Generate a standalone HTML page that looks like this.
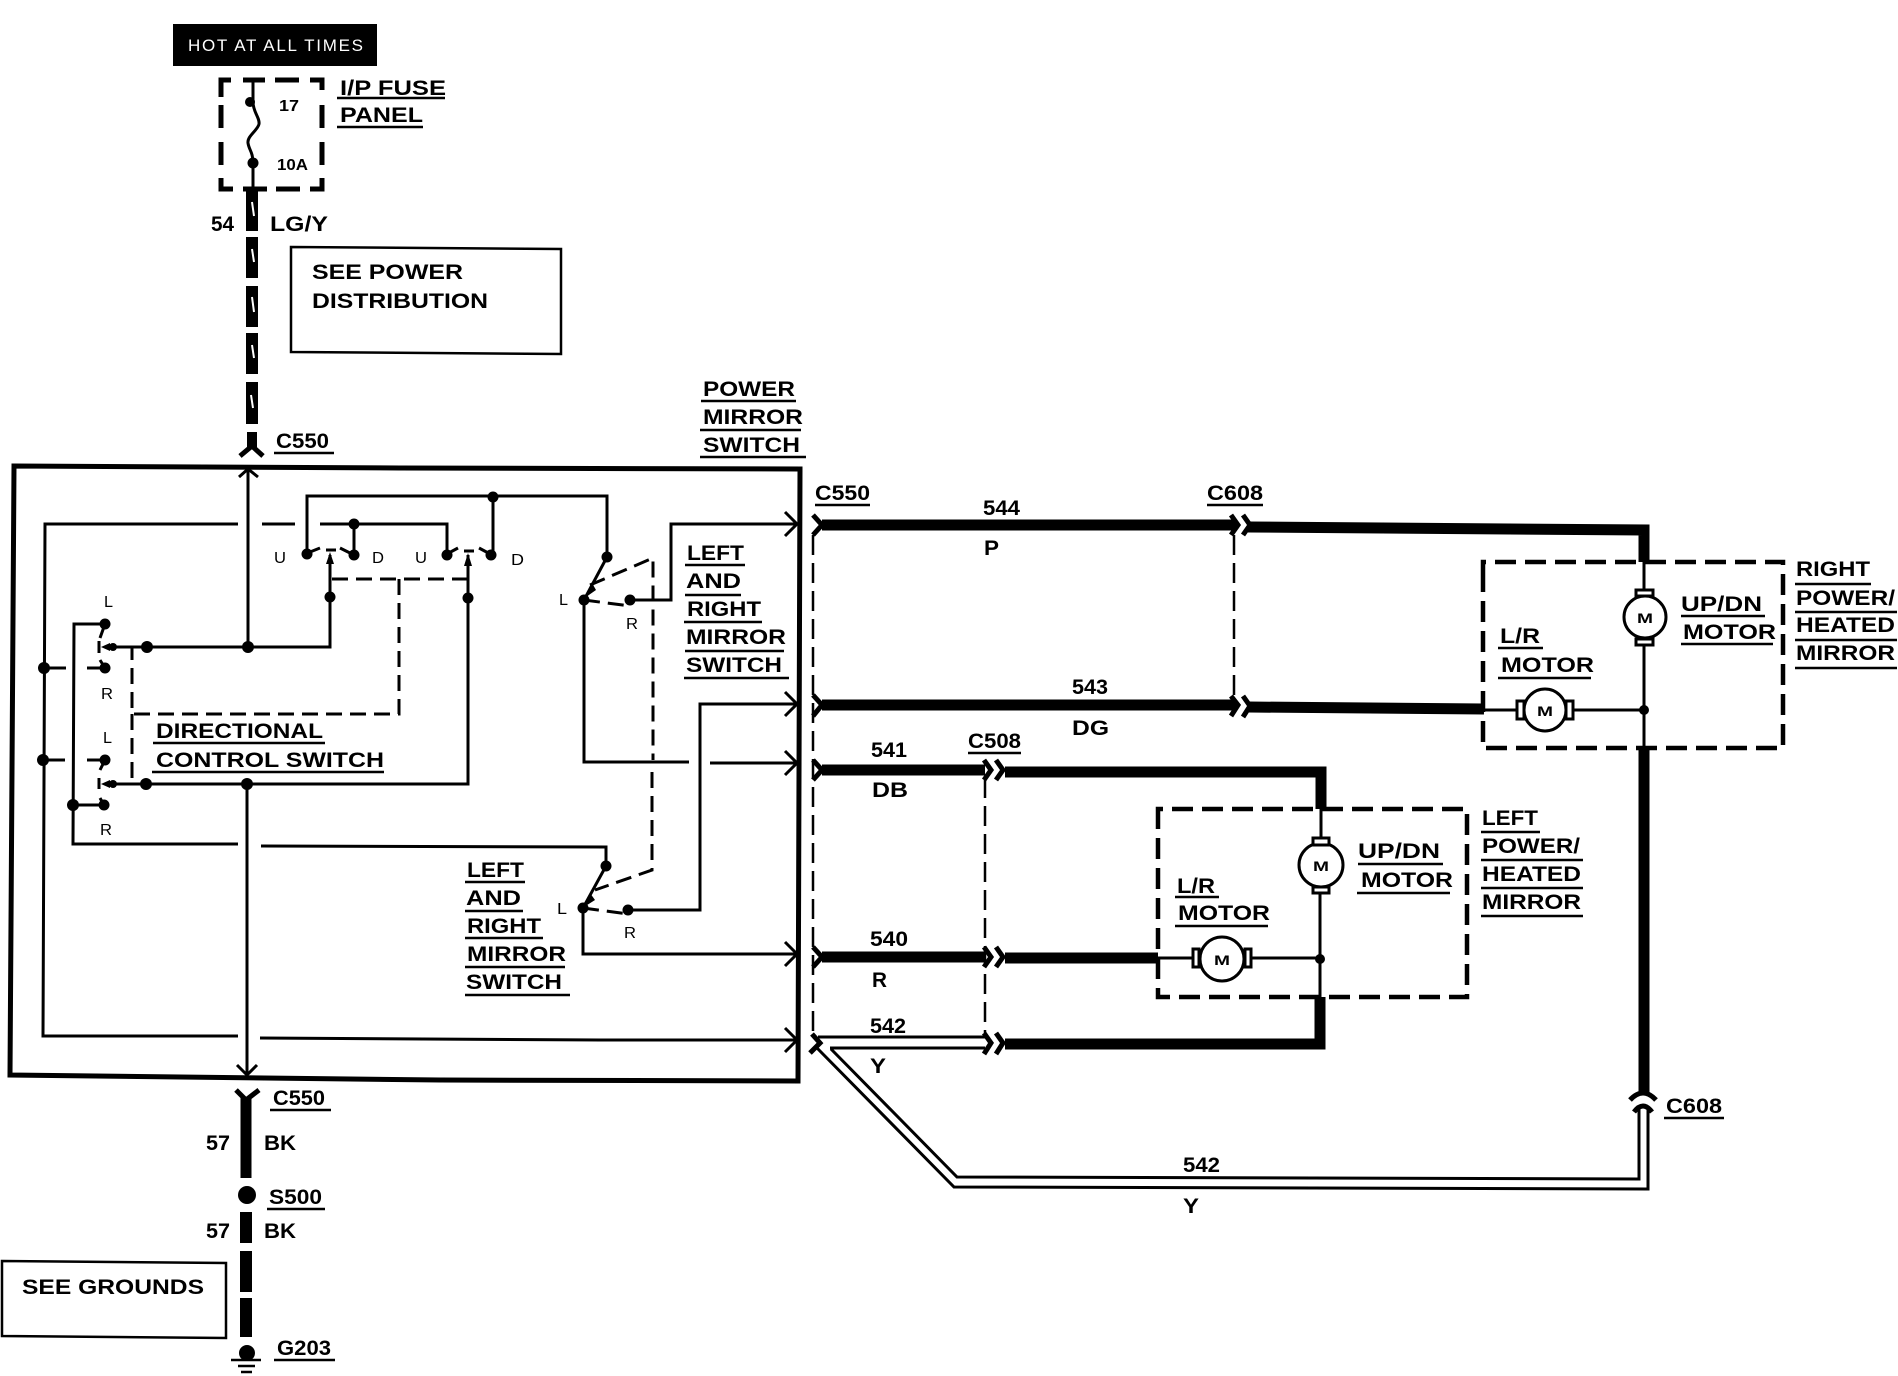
<!DOCTYPE html>
<html><head><meta charset="utf-8"><style>
html,body{margin:0;padding:0;background:#fff}
svg{display:block}
text{font-family:"Liberation Sans",sans-serif;font-weight:bold;fill:#000}
.l{font-size:21px}.s{font-size:14px}
.t text{font-size:16px;font-weight:normal}
</style></head><body>
<svg width="1898" height="1376" viewBox="0 0 1898 1376" xmlns="http://www.w3.org/2000/svg">
<rect width="1898" height="1376" fill="#fff"/>
<rect x="173" y="24" width="204" height="42" fill="#000"/>
<text x="188" y="51" font-size="17" textLength="175" style="fill:#fff;font-weight:normal">HOT AT ALL TIMES</text>

<!-- fuse -->
<path d="M221 97V80H231M243 80H265M275 80H299M310 80H322V90M221 105V128M221 142V165M322 105V128M322 142V165M221 178V189H233M243 189H267M276 189H300M310 189H322V178" fill="none" stroke="#000" stroke-width="5"/>
<path d="M253 80V102C253 112 260 118 259 124C258 130 247 136 248 143C249 150 253 152 253 163V190" fill="none" stroke="#000" stroke-width="3"/>
<circle cx="250" cy="102" r="5"/><circle cx="253" cy="163" r="5.5"/>
<text x="279" y="111" font-size="16" textLength="20" lengthAdjust="spacingAndGlyphs">17</text>
<text x="277" y="170" font-size="16" textLength="31" lengthAdjust="spacingAndGlyphs">10A</text>

<!-- thick power wire -->
<path d="M252 190V231M252 237V278M252 286V327M252 333V374M252 382V424" stroke="#000" stroke-width="12" fill="none"/>
<path d="M252 202L254 216M252 249L254 262M252 297L254 312M252 345L254 358M251 395L253 408" stroke="#fff" stroke-width="2" fill="none"/>
<path d="M252 432V448" stroke="#000" stroke-width="10"/><path d="M240 456L252 446L263 456" fill="none" stroke="#000" stroke-width="5"/>

<!-- see boxes -->
<path d="M291 247L561 249V354L291 352Z" fill="none" stroke="#000" stroke-width="2.5"/>
<path d="M2 1261L226 1263V1338L2 1336Z" fill="none" stroke="#000" stroke-width="2.5"/>

<!-- main box -->
<path d="M14 466L400 468L800 469L798 1081L440 1080L10 1075Z" fill="none" stroke="#000" stroke-width="5"/>

<!-- inside wiring -->
<g fill="none" stroke="#000" stroke-width="3">
<path d="M248 470V647M239 477L248 469L258 477"/>
<path d="M105 647H330V555"/>
<path d="M238 524H45L43 1036H238M262 524H295M320 524H447V552"/>
<path d="M260 1038L600 1040H795M785 1028L797 1040L785 1052"/>
<path d="M354 524V555"/>
<path d="M307 553V496H607V557"/>
<path d="M493 497V555"/>
<path d="M468 555V784H105"/>
<path d="M247 784V1073M237 1065L247 1075L257 1065"/>
<path d="M44 668H66M87 668H105M43 760H65M87 760H105"/>
<path d="M105 624H74L73 844H238M261 846L606 847V866"/>
<path d="M73 805H104"/>
<path d="M606 866L583 908V954H797M785 942L797 954L785 966"/>
<path d="M628 910H700V704H797M785 692L797 704L785 716"/>
<path d="M607 557L584 600V762H689M710 763H797M785 751L797 763L785 775"/>
<path d="M630 600H671V524H797M785 512L797 524L785 536"/>
<path d="M305 554L320 548M354 555L340 548M445 555L458 548M492 555L479 548"/>
<path d="M326 550H336M464 551H474"/>
<path d="M105 624L100 638M105 668L100 660M105 760L100 770M104 805L100 798M99 641V653M99 778V789"/>
</g>
<path d="M330 552L326 564H334Z M468 553L464 566H472Z M592 583L586 597L596 590Z M590 893L584 907L595 900Z M101 647L110 643V651Z M101 784L110 780V788Z"/>
<g fill="none" stroke="#000" stroke-width="3" stroke-dasharray="16 8">
<path d="M332 579H468"/>
<path d="M399 579V714H132V648M132 714V783"/>
<path d="M590 585L653 558V760"/>
<path d="M652 772V870L595 890"/>
<path d="M584 600L630 606M583 908L628 914"/>
</g>
<g>
<circle cx="248" cy="647" r="6"/><circle cx="147" cy="647" r="6"/><circle cx="113" cy="647" r="4"/>
<circle cx="247" cy="784" r="6"/><circle cx="146" cy="784" r="6"/><circle cx="113" cy="784" r="4"/>
<circle cx="105" cy="624" r="5.5"/><circle cx="105" cy="668" r="5.5"/><circle cx="105" cy="760" r="5.5"/><circle cx="104" cy="805" r="5.5"/>
<circle cx="44" cy="668" r="6"/><circle cx="43" cy="760" r="6"/><circle cx="73" cy="805" r="6"/>
<circle cx="307" cy="554" r="5.5"/><circle cx="354" cy="555" r="5.5"/><circle cx="447" cy="555" r="5.5"/><circle cx="491" cy="555" r="5.5"/>
<circle cx="354" cy="524" r="5.5"/><circle cx="493" cy="497" r="5.5"/>
<circle cx="330" cy="597" r="5.5"/><circle cx="468" cy="598" r="5.5"/>
<circle cx="607" cy="557" r="5.5"/><circle cx="584" cy="600" r="5.5"/><circle cx="630" cy="600" r="5.5"/>
<circle cx="606" cy="866" r="5.5"/><circle cx="583" cy="908" r="5.5"/><circle cx="628" cy="910" r="5.5"/>
</g>

<!-- right side thin dashed -->
<g fill="none" stroke="#000" stroke-width="2.5" stroke-dasharray="20 8">
<path d="M813 535V1038"/>
<path d="M1234 535V706"/>
<path d="M985 778V1037"/>
</g>

<!-- thick harness -->
<g fill="none" stroke="#000" stroke-width="11">
<path d="M822 525H1235M1248 527L1644 530V562"/>
<path d="M822 705H1235M1248 707L1484 709"/>
<path d="M822 770H985M1005 772H1321V809"/>
<path d="M822 957H985M1005 958H1158"/>
<path d="M1005 1044H1320V997"/>
<path d="M1644 748V1092"/>
</g>
<!-- chevrons -->
<g fill="none" stroke="#000" stroke-width="5">
<path d="M813 515L822 525L813 535M813 695L822 705L813 716M813 760L822 770L813 780M813 947L822 957L813 967"/>
<path d="M812 1034L820 1043L810 1053"/>
<path d="M1231 515L1238 525L1231 535M1243 515L1250 525L1243 535M1231 696L1238 705L1231 716M1243 696L1250 706L1243 717"/>
<path d="M984 760L991 770L984 780M996 760L1003 770L996 780M984 947L991 957L984 967M996 947L1003 957L996 967M984 1033L991 1043L984 1054M996 1033L1003 1043L996 1054"/>
<path d="M1630 1100Q1643 1086 1656 1100M1634 1112Q1643 1100 1652 1112"/>
</g>
<!-- 542 double -->
<g fill="none" stroke="#000" stroke-width="3">
<path d="M818 1037H985M830 1048H985"/>
<path d="M817 1048L954 1187L1648 1189V1108"/>
<path d="M831 1049L957 1177L1639 1179V1108"/>
</g>

<!-- motors -->
<g fill="none" stroke="#000" stroke-width="4.5" stroke-dasharray="21 9">
<path d="M1483 580V562H1783V748H1483V562"/>
<path d="M1158 825V809H1467V997H1158V809"/>
</g>
<g fill="none" stroke="#000" stroke-width="3">
<path d="M1644 562V596M1644 640V748M1484 710H1517M1573 710H1644"/>
<path d="M1321 809V838M1320 893V997M1158 958H1193M1251 958H1320"/>
<g fill="#fff">
<circle cx="1645" cy="617" r="21"/><circle cx="1545" cy="710" r="21"/><circle cx="1321" cy="865" r="22"/><circle cx="1222" cy="959" r="22"/>
<rect x="1636" y="590" width="17" height="6"/><rect x="1636" y="639" width="17" height="6"/>
<rect x="1517" y="701" width="7" height="18"/><rect x="1566" y="701" width="7" height="18"/>
<rect x="1313" y="838" width="16" height="7"/><rect x="1313" y="887" width="16" height="6"/>
<rect x="1193" y="949" width="6" height="18"/><rect x="1245" y="949" width="6" height="18"/>
</g>
</g>
<circle cx="1644" cy="710" r="5"/><circle cx="1320" cy="959" r="5"/>
<text class="s" x="1637" y="623" textLength="16" lengthAdjust="spacingAndGlyphs">M</text>
<text class="s" x="1537" y="716" textLength="16" lengthAdjust="spacingAndGlyphs">M</text>
<text class="s" x="1313" y="871" textLength="16" lengthAdjust="spacingAndGlyphs">M</text>
<text class="s" x="1214" y="965" textLength="16" lengthAdjust="spacingAndGlyphs">M</text>

<!-- bottom ground -->
<path d="M246 1097V1178" stroke="#000" stroke-width="11"/><path d="M236 1090L246 1100L259 1090" fill="none" stroke="#000" stroke-width="5"/>
<circle cx="247" cy="1195" r="9"/>
<path d="M246 1212V1243M246 1251V1292M246 1298V1337" stroke="#000" stroke-width="12" fill="none"/>
<circle cx="247" cy="1353" r="8"/>
<path d="M231 1360H261M238 1366H255M241 1372H252" stroke="#000" stroke-width="2.5" fill="none"/>

<!-- underlines -->
<path fill="none" stroke="#000" stroke-width="2.5" d="M337 98H445M337 127H423M274 453H334M701 401H796M700 430H801M700 457H806M685 565H745M685 595H741M684 622H762M685 651H784M684 678H789M465 882H525M465 911H523M465 938H543M465 967H565M465 995H570M153 743H325M152 772H384M815 505H870M1207 505H1263M968 753H1021M1498 648H1543M1498 678H1591M1681 616H1765M1681 644H1773M1795 584H1871M1795 612H1897M1795 640H1897M1795 668H1897M1175 897H1219M1175 926H1268M1358 864H1443M1357 893H1450M1481 832H1540M1481 860H1583M1481 888H1583M1481 916H1583M1664 1118H1724M270 1110H331M267 1209H325M274 1360H335"/>

<!-- labels -->
<g class="l">
<text x="340" y="95" textLength="106" lengthAdjust="spacingAndGlyphs">I/P FUSE</text>
<text x="340" y="122" textLength="83" lengthAdjust="spacingAndGlyphs">PANEL</text>
<text x="211" y="231" textLength="23" lengthAdjust="spacingAndGlyphs">54</text>
<text x="270" y="231" textLength="58" lengthAdjust="spacingAndGlyphs">LG/Y</text>
<text x="312" y="279" textLength="151" lengthAdjust="spacingAndGlyphs">SEE POWER</text>
<text x="312" y="308" textLength="176" lengthAdjust="spacingAndGlyphs">DISTRIBUTION</text>
<text x="276" y="448" textLength="53" lengthAdjust="spacingAndGlyphs">C550</text>
<text x="703" y="396" textLength="92" lengthAdjust="spacingAndGlyphs">POWER</text>
<text x="703" y="424" textLength="100" lengthAdjust="spacingAndGlyphs">MIRROR</text>
<text x="703" y="452" textLength="97" lengthAdjust="spacingAndGlyphs">SWITCH</text>
<text x="687" y="560" textLength="57" lengthAdjust="spacingAndGlyphs">LEFT</text>
<text x="686" y="588" textLength="55" lengthAdjust="spacingAndGlyphs">AND</text>
<text x="687" y="616" textLength="74" lengthAdjust="spacingAndGlyphs">RIGHT</text>
<text x="686" y="644" textLength="100" lengthAdjust="spacingAndGlyphs">MIRROR</text>
<text x="686" y="672" textLength="96" lengthAdjust="spacingAndGlyphs">SWITCH</text>
<text x="467" y="877" textLength="57" lengthAdjust="spacingAndGlyphs">LEFT</text>
<text x="466" y="905" textLength="55" lengthAdjust="spacingAndGlyphs">AND</text>
<text x="467" y="933" textLength="74" lengthAdjust="spacingAndGlyphs">RIGHT</text>
<text x="467" y="961" textLength="99" lengthAdjust="spacingAndGlyphs">MIRROR</text>
<text x="466" y="989" textLength="96" lengthAdjust="spacingAndGlyphs">SWITCH</text>
<text x="156" y="738" textLength="167" lengthAdjust="spacingAndGlyphs">DIRECTIONAL</text>
<text x="156" y="767" textLength="228" lengthAdjust="spacingAndGlyphs">CONTROL SWITCH</text>
<text x="815" y="500" textLength="55" lengthAdjust="spacingAndGlyphs">C550</text>
<text x="1207" y="500" textLength="56" lengthAdjust="spacingAndGlyphs">C608</text>
<text x="983" y="515" textLength="37" lengthAdjust="spacingAndGlyphs">544</text>
<text x="984" y="555" textLength="15" lengthAdjust="spacingAndGlyphs">P</text>
<text x="1072" y="694" textLength="36" lengthAdjust="spacingAndGlyphs">543</text>
<text x="1072" y="735" textLength="37" lengthAdjust="spacingAndGlyphs">DG</text>
<text x="871" y="757" textLength="36" lengthAdjust="spacingAndGlyphs">541</text>
<text x="872" y="797" textLength="36" lengthAdjust="spacingAndGlyphs">DB</text>
<text x="968" y="748" textLength="53" lengthAdjust="spacingAndGlyphs">C508</text>
<text x="870" y="946" textLength="38" lengthAdjust="spacingAndGlyphs">540</text>
<text x="872" y="987" textLength="15" lengthAdjust="spacingAndGlyphs">R</text>
<text x="870" y="1033" textLength="36" lengthAdjust="spacingAndGlyphs">542</text>
<text x="870" y="1073" textLength="16" lengthAdjust="spacingAndGlyphs">Y</text>
<text x="1183" y="1172" textLength="37" lengthAdjust="spacingAndGlyphs">542</text>
<text x="1183" y="1213" textLength="16" lengthAdjust="spacingAndGlyphs">Y</text>
<text x="1666" y="1113" textLength="56" lengthAdjust="spacingAndGlyphs">C608</text>
<text x="1500" y="643" textLength="40" lengthAdjust="spacingAndGlyphs">L/R</text>
<text x="1501" y="672" textLength="93" lengthAdjust="spacingAndGlyphs">MOTOR</text>
<text x="1681" y="611" textLength="81" lengthAdjust="spacingAndGlyphs">UP/DN</text>
<text x="1683" y="639" textLength="93" lengthAdjust="spacingAndGlyphs">MOTOR</text>
<text x="1796" y="576" textLength="74" lengthAdjust="spacingAndGlyphs">RIGHT</text>
<text x="1796" y="605" textLength="99" lengthAdjust="spacingAndGlyphs">POWER/</text>
<text x="1796" y="632" textLength="99" lengthAdjust="spacingAndGlyphs">HEATED</text>
<text x="1796" y="660" textLength="99" lengthAdjust="spacingAndGlyphs">MIRROR</text>
<text x="1177" y="893" textLength="38" lengthAdjust="spacingAndGlyphs">L/R</text>
<text x="1178" y="920" textLength="92" lengthAdjust="spacingAndGlyphs">MOTOR</text>
<text x="1358" y="858" textLength="82" lengthAdjust="spacingAndGlyphs">UP/DN</text>
<text x="1361" y="887" textLength="92" lengthAdjust="spacingAndGlyphs">MOTOR</text>
<text x="1482" y="825" textLength="56" lengthAdjust="spacingAndGlyphs">LEFT</text>
<text x="1482" y="853" textLength="98" lengthAdjust="spacingAndGlyphs">POWER/</text>
<text x="1482" y="881" textLength="99" lengthAdjust="spacingAndGlyphs">HEATED</text>
<text x="1482" y="909" textLength="99" lengthAdjust="spacingAndGlyphs">MIRROR</text>
<text x="273" y="1105" textLength="52" lengthAdjust="spacingAndGlyphs">C550</text>
<text x="206" y="1150" textLength="24" lengthAdjust="spacingAndGlyphs">57</text>
<text x="264" y="1150" textLength="32" lengthAdjust="spacingAndGlyphs">BK</text>
<text x="269" y="1204" textLength="53" lengthAdjust="spacingAndGlyphs">S500</text>
<text x="206" y="1238" textLength="24" lengthAdjust="spacingAndGlyphs">57</text>
<text x="264" y="1238" textLength="32" lengthAdjust="spacingAndGlyphs">BK</text>
<text x="22" y="1294" textLength="182" lengthAdjust="spacingAndGlyphs">SEE GROUNDS</text>
<text x="277" y="1355" textLength="54" lengthAdjust="spacingAndGlyphs">G203</text>
</g>
<g class="t">
<text x="274" y="563" textLength="12" lengthAdjust="spacingAndGlyphs">U</text>
<text x="372" y="563" textLength="12" lengthAdjust="spacingAndGlyphs">D</text>
<text x="415" y="563" textLength="12" lengthAdjust="spacingAndGlyphs">U</text>
<text x="511" y="565" textLength="13" lengthAdjust="spacingAndGlyphs">D</text>
<text x="104" y="607" textLength="9" lengthAdjust="spacingAndGlyphs">L</text>
<text x="101" y="699" textLength="12" lengthAdjust="spacingAndGlyphs">R</text>
<text x="103" y="743" textLength="9" lengthAdjust="spacingAndGlyphs">L</text>
<text x="100" y="835" textLength="12" lengthAdjust="spacingAndGlyphs">R</text>
<text x="559" y="605" textLength="9" lengthAdjust="spacingAndGlyphs">L</text>
<text x="626" y="629" textLength="12" lengthAdjust="spacingAndGlyphs">R</text>
<text x="557" y="914" textLength="10" lengthAdjust="spacingAndGlyphs">L</text>
<text x="624" y="938" textLength="12" lengthAdjust="spacingAndGlyphs">R</text>
</g>
</svg>
</body></html>
